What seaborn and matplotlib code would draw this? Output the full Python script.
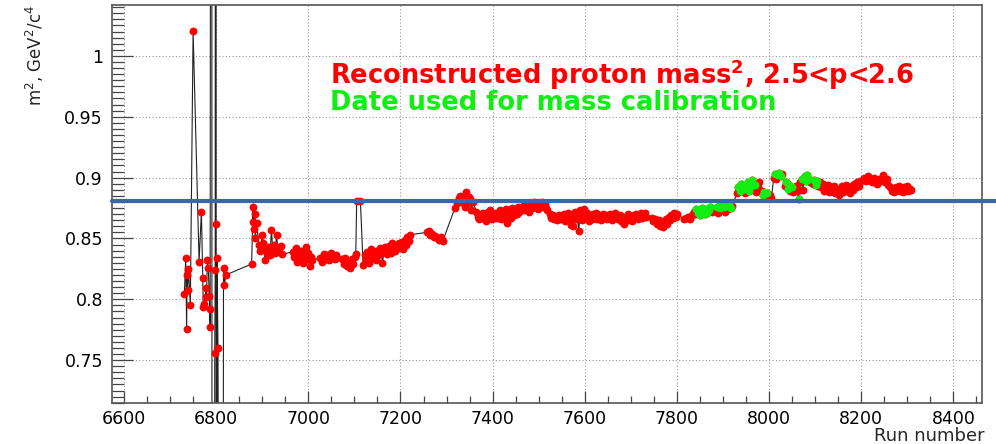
import numpy as np
import pandas as pd
import matplotlib
matplotlib.use("Agg")
import matplotlib.pyplot as plt
from matplotlib.ticker import MultipleLocator, FuncFormatter
import seaborn as sns

# Reconstructed proton m^2 (GeV^2/c^4) per run, momentum slice 2.5 < p < 2.6 GeV/c
runs_g1 = [6731, 6734, 6736, 6737, 6738, 6740, 6744, 6750, 6763, 6768, 6771, 6772, 6774,
           6778, 6779, 6781, 6783, 6785, 6786, 6787, 6790, 6792, 6797, 6798, 6799, 6800,
           6801, 6802, 6804, 6812, 6816, 6818, 6821]
m2_g1 = [0.804, 0.834, 0.776, 0.820, 0.808, 0.825, 0.795, 1.0205, 0.831, 0.872, 0.8175, 0.794, 0.796,
         0.809, 0.802, 0.8325, 0.826, 0.803, 0.792, 0.777, 2.5, -1.5, 0.756, 0.824, 2.5, 0.8615,
         -1.5, 0.834, 0.760, -0.5, 0.826, 0.812, 0.820]

runs_g2 = [6877, 6880, 6881, 6883, 6884, 6885, 6888, 6892, 6896, 6900, 6902, 6904, 6906,
           6910, 6914, 6917, 6920, 6923, 6926, 6928, 6931, 6934, 6937, 6940, 6943,
           6967, 6970, 6973, 6976, 6979, 6982, 6985, 6988, 6991, 6994, 6997, 7000, 7003, 7006, 7009]
m2_g2 = [0.829, 0.876, 0.8636, 0.858, 0.870, 0.850, 0.863, 0.845, 0.840, 0.853, 0.8465, 0.841, 0.832,
         0.838, 0.843, 0.836, 0.857, 0.840, 0.845, 0.838, 0.853, 0.842, 0.839, 0.844, 0.837,
         0.839, 0.835, 0.842, 0.831, 0.837, 0.834, 0.840, 0.830, 0.836, 0.843, 0.833, 0.838, 0.827, 0.835, 0.832]

runs_g3 = [7025, 7029, 7033, 7037, 7041, 7045, 7049, 7053, 7057, 7061,
           7073, 7077, 7080, 7084, 7087, 7091, 7094, 7098, 7101, 7103, 7105, 7113,
           7119, 7122, 7125, 7128, 7131, 7134, 7137, 7140, 7143, 7146, 7149, 7152, 7155, 7158,
           7161, 7164, 7167, 7170, 7173, 7176, 7179, 7182, 7185, 7188, 7191, 7194, 7197, 7200,
           7203, 7206, 7209, 7212, 7215, 7218, 7221]
m2_g3 = [0.834, 0.831, 0.837, 0.833, 0.836, 0.832, 0.838, 0.834, 0.833, 0.836,
         0.833, 0.829, 0.834, 0.827, 0.831, 0.826, 0.833, 0.829, 0.835, 0.837, 0.881, 0.881,
         0.828, 0.836, 0.832, 0.839, 0.830, 0.837, 0.841, 0.834, 0.838, 0.832, 0.840, 0.836, 0.842, 0.838,
         0.830, 0.839, 0.843, 0.837, 0.841, 0.844, 0.838, 0.8465, 0.842, 0.840, 0.845, 0.842, 0.846, 0.843,
         0.847, 0.841, 0.849, 0.845, 0.851, 0.848, 0.853]

runs_g4 = [7257, 7261, 7264, 7268, 7272, 7276, 7280, 7284, 7288, 7292,
           7318, 7322, 7326, 7329, 7332, 7336, 7340, 7342, 7345, 7348, 7351, 7354, 7357,
           7365, 7368, 7371, 7374, 7377, 7380, 7383, 7386, 7389, 7392, 7395, 7398, 7401, 7404,
           7407, 7410, 7413, 7416, 7419, 7422, 7425, 7428, 7431, 7434, 7437, 7440, 7443, 7446,
           7449, 7452, 7455, 7458]
m2_g4 = [0.855, 0.856, 0.853, 0.854, 0.851, 0.852, 0.850, 0.849, 0.851, 0.848,
         0.875, 0.879, 0.883, 0.885, 0.880, 0.882, 0.876, 0.888, 0.879, 0.884, 0.882, 0.873, 0.880,
         0.872, 0.868, 0.866, 0.870, 0.867, 0.871, 0.869, 0.864, 0.872, 0.868, 0.873, 0.866, 0.870, 0.868,
         0.871, 0.867, 0.869, 0.873, 0.866, 0.870, 0.868, 0.874, 0.863, 0.870, 0.872, 0.867, 0.875, 0.869,
         0.873, 0.870, 0.876, 0.872]

runs_g5 = [7462, 7465, 7468, 7471, 7474, 7477, 7480, 7483, 7486, 7489, 7492, 7495, 7498, 7501,
           7504, 7507, 7510, 7513, 7516, 7519,
           7524, 7527, 7530, 7533, 7536, 7539, 7542, 7545, 7548, 7551, 7554, 7557, 7560, 7563,
           7566, 7569, 7572, 7575, 7578, 7581, 7584, 7587, 7590, 7593, 7596, 7599, 7602, 7605]
m2_g5 = [0.874, 0.877, 0.873, 0.878, 0.875, 0.879, 0.872, 0.877, 0.875, 0.880, 0.876, 0.878, 0.874, 0.879,
         0.877, 0.880, 0.876, 0.878, 0.875, 0.873,
         0.870, 0.867, 0.869, 0.866, 0.868, 0.865, 0.867, 0.869, 0.866, 0.868, 0.870, 0.864, 0.867, 0.871,
         0.866, 0.861, 0.868, 0.860, 0.872, 0.866, 0.869, 0.856, 0.873, 0.865, 0.870, 0.874, 0.867, 0.871]

runs_g6 = [7609, 7612, 7615, 7618, 7621, 7624, 7627, 7630, 7633, 7636, 7639, 7642, 7645, 7648,
           7651, 7654, 7657, 7660, 7663, 7666, 7669,
           7673, 7676, 7679, 7682, 7685, 7688, 7691, 7694, 7697, 7700, 7703, 7706, 7709, 7712,
           7715, 7718, 7721, 7724, 7727, 7730, 7733,
           7745, 7749, 7753, 7757, 7761, 7764, 7767, 7770, 7773, 7776, 7779, 7782, 7785, 7788,
           7791, 7794, 7797, 7800]
m2_g6 = [0.864, 0.868, 0.866, 0.870, 0.867, 0.871, 0.866, 0.869, 0.868, 0.865, 0.870, 0.867, 0.869, 0.866,
         0.868, 0.870, 0.867, 0.865, 0.869, 0.871, 0.867,
         0.866, 0.869, 0.864, 0.867, 0.862, 0.868, 0.865, 0.870, 0.866, 0.868, 0.864, 0.869, 0.867, 0.870,
         0.866, 0.868, 0.871, 0.867, 0.869, 0.871, 0.868,
         0.867, 0.864, 0.866, 0.862, 0.865, 0.860, 0.863, 0.859, 0.864, 0.866, 0.862, 0.868, 0.865, 0.869,
         0.867, 0.871, 0.868, 0.870]

runs_g7 = [7815, 7820, 7825, 7829, 7833, 7836, 7839, 7842, 7845, 7848, 7851, 7854, 7857, 7860,
           7863, 7866, 7869, 7872, 7875, 7878,
           7884, 7887, 7890, 7893, 7896, 7899, 7902, 7905, 7908, 7911, 7914, 7917, 7920,
           7930, 7933, 7936, 7939, 7942, 7945, 7948, 7951, 7954, 7957, 7960, 7963, 7966, 7969,
           7972, 7975, 7978, 7981,
           7984, 7987, 7990, 7993, 7996, 7999, 8002, 8005]
m2_g7 = [0.866, 0.867, 0.868, 0.866, 0.869, 0.872, 0.870, 0.874, 0.871, 0.873, 0.869, 0.875, 0.872, 0.870,
         0.874, 0.871, 0.873, 0.876, 0.872, 0.874,
         0.873, 0.876, 0.871, 0.875, 0.878, 0.873, 0.876, 0.872, 0.877, 0.874, 0.878, 0.875, 0.877,
         0.887, 0.892, 0.889, 0.895, 0.890, 0.893, 0.887, 0.891, 0.896, 0.889, 0.893, 0.898, 0.890, 0.894,
         0.888, 0.892, 0.896, 0.889,
         0.889, 0.886, 0.888, 0.885, 0.887, 0.884, 0.886, 0.883]

runs_g8 = [8010, 8013, 8016, 8019, 8022, 8025, 8028,
           8034, 8037, 8040, 8043, 8046, 8049, 8052, 8055, 8058, 8061, 8064, 8066,
           8068, 8071, 8074, 8077, 8080, 8083, 8086, 8089, 8095, 8098, 8101, 8104, 8107, 8110]
m2_g8 = [0.900, 0.903, 0.899, 0.902, 0.904, 0.901, 0.903,
         0.893, 0.896, 0.891, 0.894, 0.889, 0.892, 0.888, 0.891, 0.893, 0.889, 0.882, 0.890,
         0.896, 0.899, 0.890, 0.901, 0.897, 0.902, 0.899, 0.896, 0.895, 0.898, 0.894, 0.897, 0.893, 0.896]

runs_g9 = [8113, 8116, 8119, 8122, 8125, 8128, 8131, 8134, 8137, 8140, 8143, 8146, 8149, 8152,
           8155, 8158, 8161, 8164, 8167, 8170, 8173, 8176, 8179, 8182, 8185, 8188, 8191, 8194, 8197,
           8203, 8207, 8211, 8215, 8219, 8223, 8227, 8231, 8235, 8239, 8243, 8247, 8251, 8255, 8259,
           8263, 8266, 8269, 8272, 8275, 8278, 8281, 8284, 8287, 8290, 8293, 8296, 8299, 8302, 8305, 8308]
m2_g9 = [0.892, 0.895, 0.889, 0.893, 0.890, 0.894, 0.888, 0.892, 0.889, 0.893, 0.887, 0.891, 0.889, 0.886,
         0.890, 0.893, 0.888, 0.891, 0.894, 0.889, 0.892, 0.887, 0.893, 0.890, 0.895, 0.892, 0.896, 0.893, 0.897,
         0.898, 0.900, 0.897, 0.901, 0.899, 0.896, 0.900, 0.898, 0.895, 0.899, 0.897, 0.9025, 0.896, 0.899, 0.894,
         0.892, 0.889, 0.891, 0.888, 0.892, 0.890, 0.893, 0.889, 0.891, 0.888, 0.892, 0.890, 0.893, 0.889, 0.891, 0.890]

# Runs whose data were used for the mass calibration
calib_runs = [7842, 7845, 7848, 7851, 7854, 7857, 7860, 7863, 7866, 7869, 7872,
              7887, 7893, 7896, 7902, 7908, 7914, 7917,
              7933, 7936, 7939, 7942, 7945, 7951, 7954, 7957, 7960, 7963, 7969,
              7987, 7990, 7996, 8013, 8019, 8022, 8025, 8037, 8040, 8043, 8049, 8064,
              8071, 8077, 8080, 8083, 8086, 8098, 8101, 8104]

# Nominal proton mass squared (GeV^2/c^4)
PROTON_M2 = 0.938272 ** 2

run_groups = [runs_g1, runs_g2, runs_g3, runs_g4, runs_g5, runs_g6, runs_g7, runs_g8, runs_g9]
m2_groups = [m2_g1, m2_g2, m2_g3, m2_g4, m2_g5, m2_g6, m2_g7, m2_g8, m2_g9]
df = pd.DataFrame({"run": np.concatenate(run_groups), "m2": np.concatenate(m2_groups)})
calib = df[df["run"].isin(calib_runs)]

sns.set_style("white")
plt.rcParams["font.family"] = ["DejaVu Sans"]
plt.rcParams["mathtext.fontset"] = "dejavusans"

W, H = 996, 444
fig = plt.figure(figsize=(W / 100, H / 100), dpi=100)
ax = fig.add_axes([112 / W, 1 - 403 / H, 870 / W, 398 / H])

sns.lineplot(data=df, x="run", y="m2", estimator=None, sort=False,
             color="#222222", lw=0.8, ax=ax, zorder=2)
sns.scatterplot(data=df, x="run", y="m2", color="#ff0000", s=32,
                linewidth=0, ax=ax, zorder=3)
sns.scatterplot(data=calib, x="run", y="m2", color="#11ee11", s=32,
                linewidth=0, ax=ax, zorder=4)
ax.axhline(PROTON_M2, xmin=0, xmax=(W - 112) / 870, color="#3b67a8",
           lw=3, clip_on=False, zorder=5)

ax.set_xlim(6574, 8462)
ax.set_ylim(0.7148, 1.0418)
ax.xaxis.set_major_locator(MultipleLocator(200))
ax.xaxis.set_minor_locator(MultipleLocator(50))
ax.yaxis.set_major_locator(MultipleLocator(0.05))
ax.yaxis.set_minor_locator(MultipleLocator(0.005))
ax.xaxis.set_major_formatter(FuncFormatter(lambda v, p: f"{v:.0f}"))
ax.yaxis.set_major_formatter(FuncFormatter(lambda v, p: f"{v:g}"))

ax.tick_params(which="both", direction="in", top=False, right=False,
               bottom=True, left=True, color="#444444", labelcolor="black")
ax.tick_params(axis="x", which="major", length=8.6, width=0.9, pad=5, labelsize=12.5)
ax.tick_params(axis="x", which="minor", length=4.7, width=0.9)
ax.tick_params(axis="y", which="major", length=15, width=0.9, pad=6.5, labelsize=12.5)
ax.tick_params(axis="y", which="minor", length=8.5, width=0.9)

ax.grid(True, which="major", color="#999999", linestyle=(0, (1, 2)), lw=0.8)
ax.set_axisbelow(True)
for sp in ax.spines.values():
    sp.set_color("#555555")
    sp.set_linewidth(1.2)

ax.set_ylabel(r"m$^{2}$, GeV$^{2}$/c$^{4}$", fontsize=12, loc="top")
ax.yaxis.set_label_coords(-0.076, 1.0)
ax.set_xlabel("Run number", fontsize=13, loc="right")
ax.xaxis.set_label_coords(1.0035, (403 - 427) / 398)

fig.text(330 / W, 1 - 84 / H, r"Reconstructed proton mass$^{\mathbf{2}}$, 2.5<p<2.6",
         color="#ff0000", fontsize=18.5, fontweight="bold", va="baseline")
fig.text(330 / W, 1 - 110 / H, "Date used for mass calibration",
         color="#11ee11", fontsize=18.5, fontweight="bold", va="baseline")

fig.savefig("out.png", dpi=100)
